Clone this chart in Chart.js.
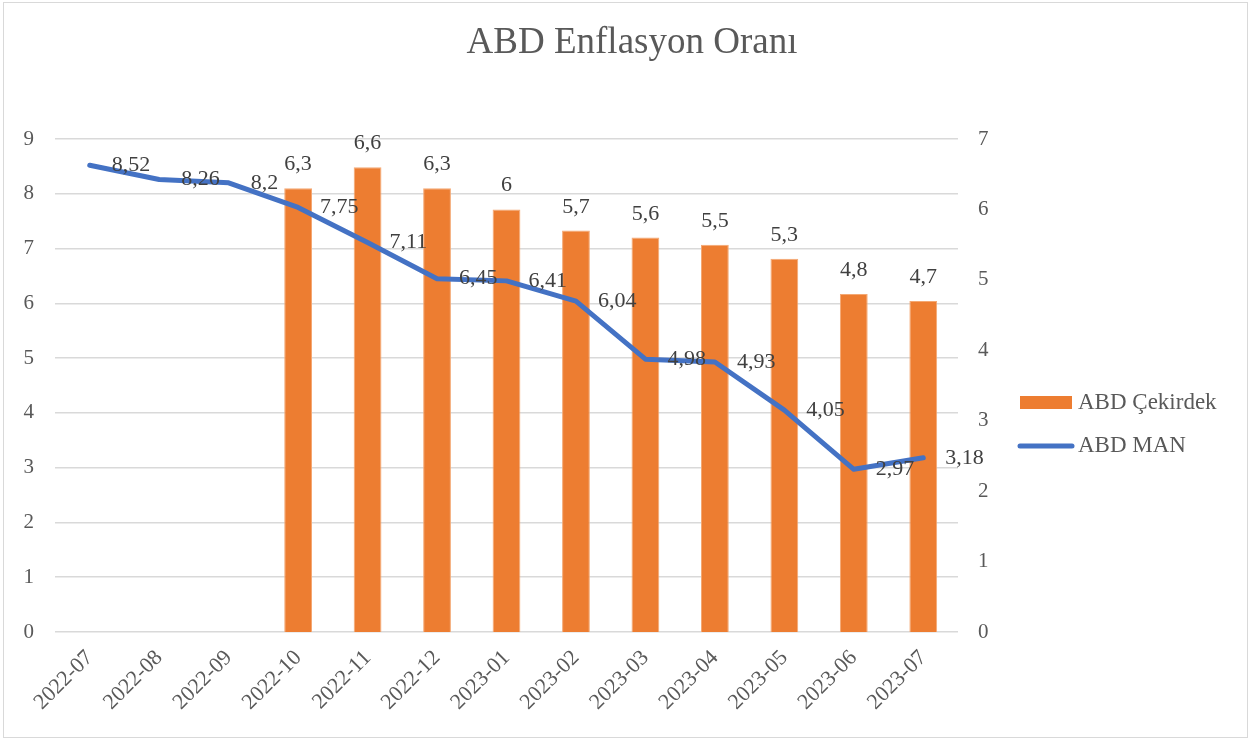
<!DOCTYPE html>
<html>
<head>
<meta charset="utf-8">
<script src="https://cdn.jsdelivr.net/npm/chart.js@4.4.1/dist/chart.umd.min.js"></script>
<style>
  html, body { margin: 0; padding: 0; background: #fff; }
  #wrap { position: relative; width: 1249px; height: 739px; }
  #frame { position: absolute; left: 3px; top: 2px; width: 1243px; height: 734px; border: 1px solid #d9d9d9; pointer-events: none; }
</style>
</head>
<body>
<div id="wrap">
  <canvas id="chart" width="1249" height="739"></canvas>
  <div id="frame"></div>
</div>
<script>
  // data
  const months = ['2022-07', '2022-08', '2022-09', '2022-10', '2022-11', '2022-12', '2023-01',
                  '2023-02', '2023-03', '2023-04', '2023-05', '2023-06', '2023-07'];
  const coreInflation = [null, null, null, 6.3, 6.6, 6.3, 6, 5.7, 5.6, 5.5, 5.3, 4.8, 4.7];
  const headlineInflation = [8.52, 8.26, 8.2, 7.75, 7.11, 6.45, 6.41, 6.04, 4.98, 4.93, 4.05, 2.97, 3.18];
  const leftAxisMax = 9;
  const rightAxisMax = 7;

  const COLOR_ORANGE = '#ED7D31';
  const COLOR_BLUE = '#4472C4';
  const COLOR_GRID = '#d9d9d9';
  const COLOR_TICK = '#595959';
  const COLOR_LABEL = '#404040';
  const FONT = '"Liberation Serif", "Times New Roman", serif';

  const fmt = v => String(v).replace('.', ',');

  // value labels: above bars, right of line points
  const valueLabels = {
    id: 'valueLabels',
    afterDatasetsDraw(chart) {
      const ctx = chart.ctx;
      ctx.save();
      ctx.font = '22px ' + FONT;
      ctx.fillStyle = COLOR_LABEL;
      chart.data.datasets.forEach((ds, i) => {
        const meta = chart.getDatasetMeta(i);
        meta.data.forEach((el, j) => {
          const v = ds.data[j];
          if (v == null) return;
          if (ds.type === 'bar') {
            ctx.textAlign = 'center';
            ctx.textBaseline = 'alphabetic';
            ctx.fillText(fmt(v), el.x, el.y - 18);
          } else {
            ctx.textAlign = 'left';
            ctx.textBaseline = 'middle';
            ctx.fillText(fmt(v), el.x + 22, el.y);
          }
        });
      });
      ctx.restore();
    }
  };

  // legend on the right, Excel style
  const sideLegend = {
    id: 'sideLegend',
    afterDraw(chart) {
      const ctx = chart.ctx;
      ctx.save();
      ctx.font = '23px ' + FONT;
      ctx.textAlign = 'left';
      ctx.textBaseline = 'middle';

      ctx.fillStyle = COLOR_ORANGE;
      ctx.fillRect(1020, 396, 52, 13);
      ctx.fillStyle = COLOR_TICK;
      ctx.fillText(chart.data.datasets[1].label, 1078, 403);

      ctx.strokeStyle = COLOR_BLUE;
      ctx.lineWidth = 5;
      ctx.lineCap = 'round';
      ctx.beginPath();
      ctx.moveTo(1020, 446);
      ctx.lineTo(1072, 446);
      ctx.stroke();
      ctx.fillText(chart.data.datasets[0].label, 1078, 446);
      ctx.restore();
    }
  };

  new Chart(document.getElementById('chart'), {
    data: {
      labels: months,
      datasets: [
        {
          type: 'line',
          label: 'ABD MAN',
          data: headlineInflation,
          yAxisID: 'y',
          borderColor: COLOR_BLUE,
          borderWidth: 5,
          borderCapStyle: 'round',
          borderJoinStyle: 'round',
          pointRadius: 0,
          tension: 0,
          order: 1
        },
        {
          type: 'bar',
          label: 'ABD Çekirdek',
          data: coreInflation,
          yAxisID: 'y1',
          backgroundColor: COLOR_ORANGE,
          borderColor: '#f4a873',
          borderWidth: 1,
          barPercentage: 0.4,
          categoryPercentage: 1,
          order: 2
        }
      ]
    },
    options: {
      responsive: false,
      animation: false,
      layout: { padding: { left: 15, right: 0, top: 0, bottom: 5 } },
      plugins: {
        legend: { display: false },
        tooltip: { enabled: false },
        title: {
          display: true,
          text: 'ABD Enflasyon Oranı',
          color: COLOR_TICK,
          font: { family: FONT, size: 37, weight: 'normal' },
          padding: { top: 21, bottom: 73.6 }
        }
      },
      scales: {
        x: {
          grid: { display: false },
          border: { display: false },
          ticks: {
            color: COLOR_TICK,
            font: { family: FONT, size: 22 },
            minRotation: 45,
            maxRotation: 45,
            autoSkip: false,
            padding: 5
          },
          afterFit(scale) { scale.height = 102; }
        },
        y: {
          position: 'left',
          min: 0,
          max: leftAxisMax,
          grid: { color: COLOR_GRID, lineWidth: 1.5, drawTicks: false },
          border: { display: false },
          ticks: {
            stepSize: 1,
            color: COLOR_TICK,
            font: { family: FONT, size: 21 },
            padding: 21
          },
          afterFit(scale) { scale.width = 40; }
        },
        y1: {
          position: 'right',
          min: 0,
          max: rightAxisMax,
          grid: { display: false, drawTicks: false },
          border: { display: false },
          ticks: {
            stepSize: 1,
            color: COLOR_TICK,
            font: { family: FONT, size: 21 },
            padding: 20
          },
          afterFit(scale) { scale.width = 291; }
        }
      }
    },
    plugins: [valueLabels, sideLegend]
  });
</script>
</body>
</html>
